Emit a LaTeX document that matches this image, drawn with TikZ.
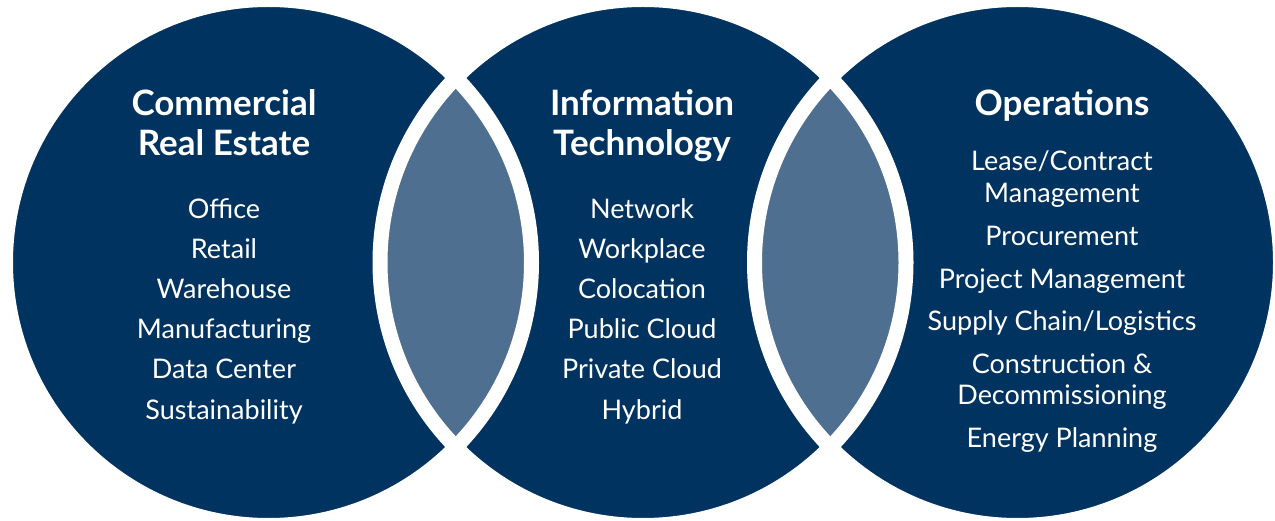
\documentclass[tikz,border=0pt]{standalone}
\usepackage{fontspec}
\setmainfont{Lato}
\definecolor{navy}{HTML}{003360}
\definecolor{steel}{HTML}{4F6F90}

\begin{document}
\begin{tikzpicture}[x=1pt,y=-1pt]
	\tikzstyle{disc}=[fill=navy]
	\tikzstyle{lens}=[fill=steel]
	\tikzstyle{rim}=[draw=white, line width=15pt]
	\tikzstyle{head}=[text=white, anchor=base, align=center, inner sep=0pt, font=\bfseries\fontsize{35}{40}\selectfont]
	\tikzstyle{item}=[text=white, anchor=base, align=center, inner sep=0pt, font=\fontsize{27}{32}\selectfont]
	
	\useasboundingbox (0,0) rectangle (1275,521);
	
	\coordinate (cl) at (268.5,262.5);
	\coordinate (cm) at (643,262.5);
	\coordinate (cr) at (1017.5,262.5);
	
	\fill[disc] (cl) circle (263pt);
	\fill[disc] (cm) circle (263pt);
	\fill[disc] (cr) circle (263pt);
	
	% overlaps
	\begin{scope}
		\clip (cl) circle (263pt);
		\fill[lens] (cm) circle (263pt);
	\end{scope}
	\begin{scope}
		\clip (cr) circle (263pt);
		\fill[lens] (cm) circle (263pt);
	\end{scope}
	
	\draw[rim] (cl) circle (263pt);
	\draw[rim] (cm) circle (263pt);
	\draw[rim] (cr) circle (263pt);
	
	% left circle (base = last line)
	\node[head] at (224,156) (cre) {Commercial\\Real Estate};
	\node[item] at (224,219) (office) {Office};
	\node[item] at (224,259) (retail) {Retail};
	\node[item] at (224,299) (warehouse) {Warehouse};
	\node[item] at (224,339) (manuf) {Manufacturing};
	\node[item] at (224,379) (datacenter) {Data Center};
	\node[item] at (224,419) (sustain) {Sustainability};
	
	% middle circle
	\node[head] at (642,156) (it) {Information\\Technology};
	\node[item] at (642,219) (network) {Network};
	\node[item] at (642,259) (workplace) {Workplace};
	\node[item] at (642,299) (coloc) {Colocation};
	\node[item] at (642,339) (public) {Public Cloud};
	\node[item] at (642,379) (private) {Private Cloud};
	\node[item] at (642,419) (hybrid) {Hybrid};
	
	% right circle
	\node[head] at (1062,116) (ops) {Operations};
	\node[item] at (1062,203) (lease) {Lease/Contract\\Management};
	\node[item] at (1062,246) (procure) {Procurement};
	\node[item] at (1062,289) (project) {Project Management};
	\node[item] at (1062,331) (supply) {Supply Chain/Logistics};
	\node[item] at (1062,405) (constr) {Construction \&\\Decommissioning};
	\node[item] at (1062,447) (energy) {Energy Planning};
\end{tikzpicture}
\end{document}
